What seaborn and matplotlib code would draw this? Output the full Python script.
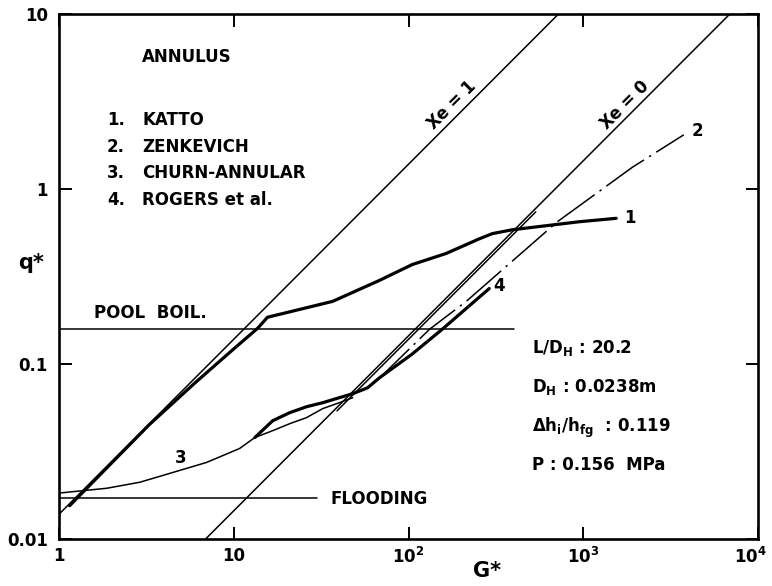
import matplotlib
matplotlib.use("Agg")
import matplotlib.pyplot as plt
import matplotlib.transforms as mtransforms
import pandas as pd
import seaborn as sns
from matplotlib.ticker import FixedLocator, FixedFormatter, NullLocator

# ---- data (G* = dimensionless mass flux, q* = dimensionless CHF) ----
# 1. Katto correlation
katto_G = [1.15, 3.3, 6, 10, 13.7, 15.6, 23.8, 36.8, 68, 105, 164, 254, 302, 393, 949, 1544]
katto_q = [0.0155, 0.0452, 0.078, 0.122, 0.160, 0.185, 0.205, 0.228, 0.30, 0.37, 0.428,
           0.519, 0.556, 0.585, 0.65, 0.68]

# 2. Zenkevich correlation
zenk_G = [65.6, 132, 214, 711, 1908, 3760]
zenk_q = [0.080, 0.158, 0.228, 0.65, 1.33, 2.04]

# 3. Churn-annular model
churn_G = [1, 1.88, 2.9, 4.48, 7.0, 10.8, 13.2, 16.7, 20.9, 26.1, 32.3, 40.2, 47.9]
churn_q = [0.0183, 0.0195, 0.0211, 0.024, 0.0274, 0.0329, 0.038, 0.0416, 0.0456, 0.0494,
           0.0556, 0.0601, 0.0642]
# churn-annular high-flux branch running alongside Xe = 0
churn_hi_G = [39, 535]
churn_hi_q = [0.054, 0.74]

# 4. Rogers et al.
rogers_G = [13.2, 16.7, 20.9, 26.1, 32.3, 40.2, 47.9, 58.3, 68, 105, 156, 290]
rogers_q = [0.038, 0.0474, 0.0527, 0.057, 0.0601, 0.0642, 0.0676, 0.0731, 0.0832, 0.114,
            0.158, 0.27]

# Equilibrium quality lines
xe1_G = [1, 722]
xe1_q = [0.01385, 10]
xe0_G = [6.9, 6900]
xe0_q = [0.01, 10]

# Pool boiling and flooding limits
pool_G = [1, 403]
pool_q = [0.158, 0.158]
flood_G = [1, 29.8]
flood_q = [0.0171, 0.0171]

x_ticks = [1, 10, 100, 1000, 10000]
x_tick_labels = ["1", "10", "10$^{2}$", "10$^{3}$", "10$^{4}$"]
y_ticks = [0.01, 0.1, 1, 10]
y_tick_labels = ["0.01", "0.1", "1", "10"]

legend_items = ["1.", "2.", "3.", "4."]
legend_names = ["KATTO", "ZENKEVICH", "CHURN-ANNULAR", "ROGERS et al."]

# ---- style ----
sns.set_theme(style="ticks")
plt.rcParams["font.family"] = ["DejaVu Sans"]
plt.rcParams["font.weight"] = "bold"
plt.rcParams["mathtext.default"] = "bf"
plt.rcParams["text.color"] = "black"
plt.rcParams["axes.labelcolor"] = "black"
plt.rcParams["xtick.color"] = "black"
plt.rcParams["ytick.color"] = "black"

W, H = 772, 586
fig = plt.figure(figsize=(W / 100, H / 100), dpi=100)
ax = fig.add_axes([59 / W, 1 - 539 / H, 699 / W, 525 / H])
ax.set_xscale("log")
ax.set_yscale("log")

thin = 1.1
thick = 2.3


def curve(G, q, lw, **kw):
    df = pd.DataFrame({"G": G, "q": q})
    sns.lineplot(data=df, x="G", y="q", ax=ax, color="black", lw=lw,
                 estimator=None, sort=False, legend=False, **kw)


curve(xe1_G, xe1_q, thin)
curve(xe0_G, xe0_q, thin)
curve(pool_G, pool_q, thin)
curve(flood_G, flood_q, thin)
curve(katto_G, katto_q, thick)
curve(zenk_G, zenk_q, thin, linestyle=(0, (30, 4, 1.5, 4)))
curve(churn_G, churn_q, thin)
curve(churn_hi_G, churn_hi_q, thin)
curve(rogers_G, rogers_q, thick)

ax.set_xlim(1, 1e4)
ax.set_ylim(0.01, 10)

ax.xaxis.set_major_locator(FixedLocator(x_ticks))
ax.xaxis.set_major_formatter(FixedFormatter(x_tick_labels))
ax.yaxis.set_major_locator(FixedLocator(y_ticks))
ax.yaxis.set_major_formatter(FixedFormatter(y_tick_labels))
ax.xaxis.set_minor_locator(NullLocator())
ax.yaxis.set_minor_locator(NullLocator())
ax.tick_params(which="major", direction="in", length=9, width=1.4, color="black",
               top=True, right=True, labelsize=12, labelcolor="black")
ax.tick_params(axis="x", pad=6)
ax.tick_params(axis="y", pad=8)
for s in ax.spines.values():
    s.set_linewidth(1.9)
    s.set_color("black")
    s.set_visible(True)

# keep the last x tick label inside the canvas
fig.canvas.draw()
last = ax.get_xticklabels()[-1]
last.set_transform(last.get_transform()
                   + mtransforms.ScaledTranslation(-8 / 100, 0, fig.dpi_scale_trans))

ax.set_xlabel("G*", fontsize=15, fontweight="bold", color="black")
ax.xaxis.set_label_coords((487 - 59) / 699, (539 - 561) / 525)
ax.set_ylabel("q*", fontsize=15, fontweight="bold", rotation=0, color="black")
ax.yaxis.set_label_coords((31 - 59) / 699, (539 - 273) / 525)

fs = 12
txt = dict(fontsize=fs, fontweight="bold", color="black", transform=ax.transAxes)

ax.text(0.119, 0.918, "ANNULUS", ha="left", va="center", **txt)
for i, (num, name) in enumerate(zip(legend_items, legend_names)):
    y = 0.798 - i * 0.0505
    ax.text(0.0687, y, num, ha="left", va="center", **txt)
    ax.text(0.119, y, name, ha="left", va="center", **txt)

ax.text(0.05, 0.430, "POOL  BOIL.", ha="left", va="center", **txt)
ax.text(0.388, 0.076, "FLOODING", ha="left", va="center", **txt)

ax.text(0.677, 0.354, "L/D$_{H}$ : 20.2", ha="left", va="baseline", **txt)
ax.text(0.677, 0.280, "D$_{H}$ : 0.0238m", ha="left", va="baseline", **txt)
ax.text(0.677, 0.204, "Δh$_{i}$/h$_{fg}$  : 0.119", ha="left", va="baseline", **txt)
ax.text(0.677, 0.131, "P : 0.156  MPa", ha="left", va="baseline", **txt)

# equilibrium quality labels, along the 45 degree lines
lbl = dict(fontsize=fs, fontweight="bold", color="black")
ax.text(178, 3.0, "Xe = 1", rotation=45, ha="center", va="center", **lbl)
ax.text(1722, 3.0, "Xe = 0", rotation=45, ha="center", va="center", **lbl)

# curve numbers
ax.annotate("1", (katto_G[-1], katto_q[-1]), xytext=(6, 0), textcoords="offset points",
            ha="left", va="center", **lbl)
ax.annotate("2", (zenk_G[-1], zenk_q[-1]), xytext=(6, 3), textcoords="offset points",
            ha="left", va="center", **lbl)
ax.annotate("4", (rogers_G[-1], rogers_q[-1]), xytext=(3, 2), textcoords="offset points",
            ha="left", va="center", **lbl)
ax.text(5.0, 0.029, "3", ha="center", va="center", **lbl)

fig.savefig("out.png", dpi=100, facecolor="white")
